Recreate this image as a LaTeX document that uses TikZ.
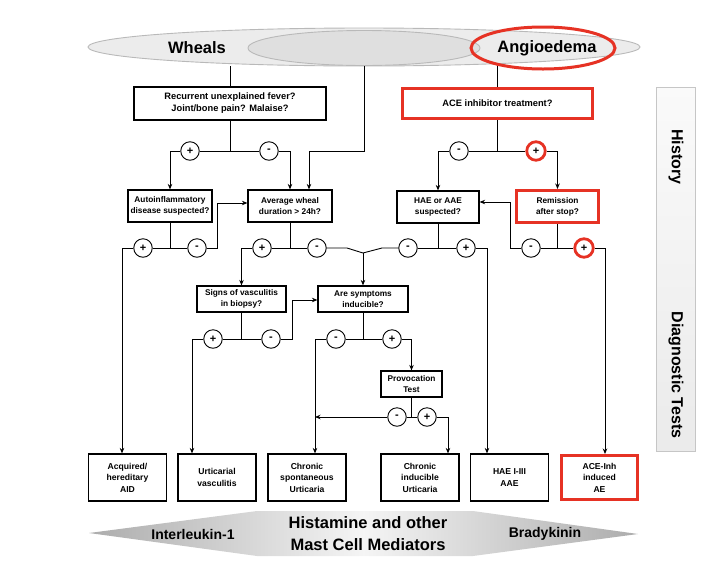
\documentclass[tikz,border=0pt]{standalone}
\usepackage{fontspec}
\setmainfont{Liberation Sans}
\usetikzlibrary{shapes.geometric, arrows.meta}

\begin{document}
\begin{tikzpicture}[x=1pt, y=-1pt, >={Stealth[length=5.5pt, width=4.5pt]}, line width=0.9pt,
	qbox/.style={draw, line width=1.2pt, fill=white, align=center, inner sep=1pt, font=\bfseries\fontsize{8.3}{11}\selectfont},
	topbox/.style={qbox, font=\bfseries\fontsize{9.3}{12}\selectfont},
	redbox/.style={qbox, draw=acered, line width=3pt},
	endbox/.style={qbox, minimum width=78pt, minimum height=47pt, font=\bfseries\fontsize{8.6}{11.5}\selectfont},
	sign/.style={circle, draw, fill=white, minimum size=18.5pt, inner sep=0pt, font=\bfseries\fontsize{11}{11}\selectfont},
	redsign/.style={sign, draw=acered, line width=2.8pt},
	title/.style={font=\bfseries\fontsize{16.5}{20}\selectfont}]
	\definecolor{acered}{RGB}{230, 50, 36}
	\useasboundingbox (0,0) rectangle (701,563);
	
	% 椭圆
	\node[ellipse, draw=gray!55, fill=gray!15, minimum width=552pt, minimum height=38pt] (big) at (364,47) {};
	\node[ellipse, draw=gray!55, fill=gray!25, minimum width=232pt, minimum height=35pt] (mid) at (364,48) {};
	\node[ellipse, draw=acered, line width=3pt, minimum width=144pt, minimum height=42pt] (ring) at (543,48) {};
	\node[title] (wheals) at (197,48) {Wheals};
	\node[title] (angio) at (547,48) {Angioedema};
	
	% 右侧
	\node[draw=gray!45, top color=gray!4, bottom color=gray!16, minimum width=39pt, minimum height=364pt] (phase) at (675.5,269) {};
	\node[rotate=-90, font=\bfseries\fontsize{16}{18}\selectfont] (history) at (676,157) {History};
	\node[rotate=-90, font=\bfseries\fontsize{16}{18}\selectfont] (diag) at (676,375) {Diagnostic Tests};
	
	% 问题框
	\node[topbox, minimum width=192pt, minimum height=33pt] (fever) at (230,103.5) {Recurrent unexplained fever?\\Joint/bone pain? Malaise?};
	\node[redbox, topbox, draw=acered, line width=3pt, minimum width=190pt, minimum height=30pt] (ace) at (497.5,103.5) {ACE inhibitor treatment?};
	\node[qbox, minimum width=84pt, minimum height=32pt] (autoinf) at (170,206) {Autoinflammatory\\disease suspected?};
	\node[qbox, minimum width=84pt, minimum height=32pt] (wheal) at (290,206) {Average wheal\\duration > 24h?};
	\node[qbox, minimum width=82pt, minimum height=32pt] (hae) at (438,207) {HAE or AAE\\suspected?};
	\node[redbox, minimum width=82pt, minimum height=32pt] (remis) at (557.5,206.5) {Remission\\after stop?};
	\node[qbox, minimum width=89pt, minimum height=26pt] (biopsy) at (241.5,299) {Signs of vasculitis\\in biopsy?};
	\node[qbox, minimum width=90pt, minimum height=26pt] (induc) at (363,299) {Are symptoms\\inducible?};
	\node[qbox, minimum width=61pt, minimum height=26pt] (provo) at (411.5,384) {Provocation\\Test};
	
	% 诊断
	\node[endbox] (aid) at (127.5,477.5) {Acquired/\\hereditary\\AID};
	\node[endbox] (uv) at (217,477.5) {Urticarial\\vasculitis};
	\node[endbox] (csu) at (307,477.5) {Chronic\\spontaneous\\Urticaria};
	\node[endbox] (cindu) at (420,477.5) {Chronic\\inducible\\Urticaria};
	\node[endbox] (haeaae) at (509.5,477.5) {HAE I-III\\AAE};
	\node[endbox, draw=acered, line width=3pt, minimum width=76pt, minimum height=44pt] (aceae) at (599.5,477.5) {ACE-Inh\\induced\\AE};
	
	% 加减号
	\node[sign] (p1) at (190,151) {+};
	\node[sign] (m1) at (269,151) {-};
	\node[sign] (m2) at (459,151) {-};
	\node[redsign] (p2) at (536,151) {+};
	\node[sign] (p3) at (143,248) {+};
	\node[sign] (m3) at (197,248) {-};
	\node[sign] (p4) at (262,248) {+};
	\node[sign] (m4) at (317,248) {-};
	\node[sign] (m5) at (408,248) {-};
	\node[sign] (p5) at (466,248) {+};
	\node[sign] (m6) at (531,248) {-};
	\node[redsign] (p6) at (584,248) {+};
	\node[sign] (p7) at (213,339) {+};
	\node[sign] (m7) at (271,339) {-};
	\node[sign] (m8) at (336,339) {-};
	\node[sign] (p8) at (392,339) {+};
	\node[sign] (m9) at (397,417) {-};
	\node[sign] (p9) at (427,417) {+};
	
	% 拐点
	\coordinate (k1) at (309,151);
	\coordinate (c1) at (122,248);
	\coordinate (c2) at (217,203);
	\coordinate (c3) at (347,248);
	\coordinate (dip) at (363,253);
	\coordinate (c4) at (382,248);
	\coordinate (c5) at (487,248);
	\coordinate (c6) at (510,202);
	\coordinate (c7) at (605,248);
	\coordinate (c8) at (192,339);
	\coordinate (c9) at (292,300);
	\coordinate (c10) at (315,339);
	\coordinate (c11) at (448,417);
	
	% 连线
	\draw (fever.north |- big.south) -- (fever);
	\draw[->] (mid.south) |- (k1) -- (k1 |- wheal.north);
	\draw (ace.north |- big.south) -- (ace);
	
	\draw (fever) -- (fever |- p1);
	\draw (p1) -- (m1);
	\draw[->] (p1) -| (autoinf);
	\draw[->] (m1) -| (wheal);
	
	\draw (ace) -- (ace |- m2);
	\draw (m2) -- (p2);
	\draw[->] (m2) -| (hae);
	\draw[->] (p2) -| (remis);
	
	\draw (autoinf) -- (autoinf |- p3);
	\draw (p3) -- (m3);
	\draw[->] (p3) -- (c1) -- (c1 |- aid.north);
	\draw[->] (m3) -| (c2) -- (c2 -| wheal.west);
	
	\draw (wheal) -- (wheal |- p4);
	\draw (p4) -- (m4);
	\draw[->] (p4) -| (biopsy);
	\draw (m4) -- (c3) -- (dip) -- (c4) -- (m5);
	\draw[->] (dip) -- (induc);
	
	\draw (hae) -- (hae |- m5);
	\draw (m5) -- (p5);
	\draw[->] (p5) -- (c5) -- (c5 |- haeaae.north);
	
	\draw (remis) -- (remis |- m6);
	\draw (m6) -- (p6);
	\draw[->] (m6) -| (c6) -- (c6 -| hae.east);
	\draw[->] (p6) -- (c7) -- (c7 |- aceae.north);
	
	\draw (biopsy) -- (biopsy |- p7);
	\draw (p7) -- (m7);
	\draw[->] (p7) -- (c8) -- (c8 |- uv.north);
	\draw[->] (m7) -| (c9) -- (c9 -| induc.west);
	
	\draw (induc) -- (induc |- m8);
	\draw (m8) -- (p8);
	\draw[->] (m8) -- (c10) -- (c10 |- csu.north);
	\draw[->] (p8) -| (provo);
	
	\draw (provo) -- (provo |- m9);
	\draw (m9) -- (p9);
	\draw[->] (m9) -- (m9 -| c10);
	\draw[->] (p9) -- (c11) -- (c11 |- cindu.north);
	
	% 介质
	\shade[left color=gray!65, right color=gray!65, middle color=gray!8] (89,533) -- (257,511) -- (473,511) -- (638,534) -- (473,556) -- (257,556) -- cycle;
	\node[font=\bfseries\fontsize{14}{16}\selectfont] (il) at (193,534) {Interleukin-1};
	\node[align=center, font=\bfseries\fontsize{16.5}{22}\selectfont] (mast) at (368,534) {Histamine and other\\Mast Cell Mediators};
	\node[font=\bfseries\fontsize{14}{16}\selectfont] (brady) at (545,534) {Bradykinin};
\end{tikzpicture}
\end{document}
